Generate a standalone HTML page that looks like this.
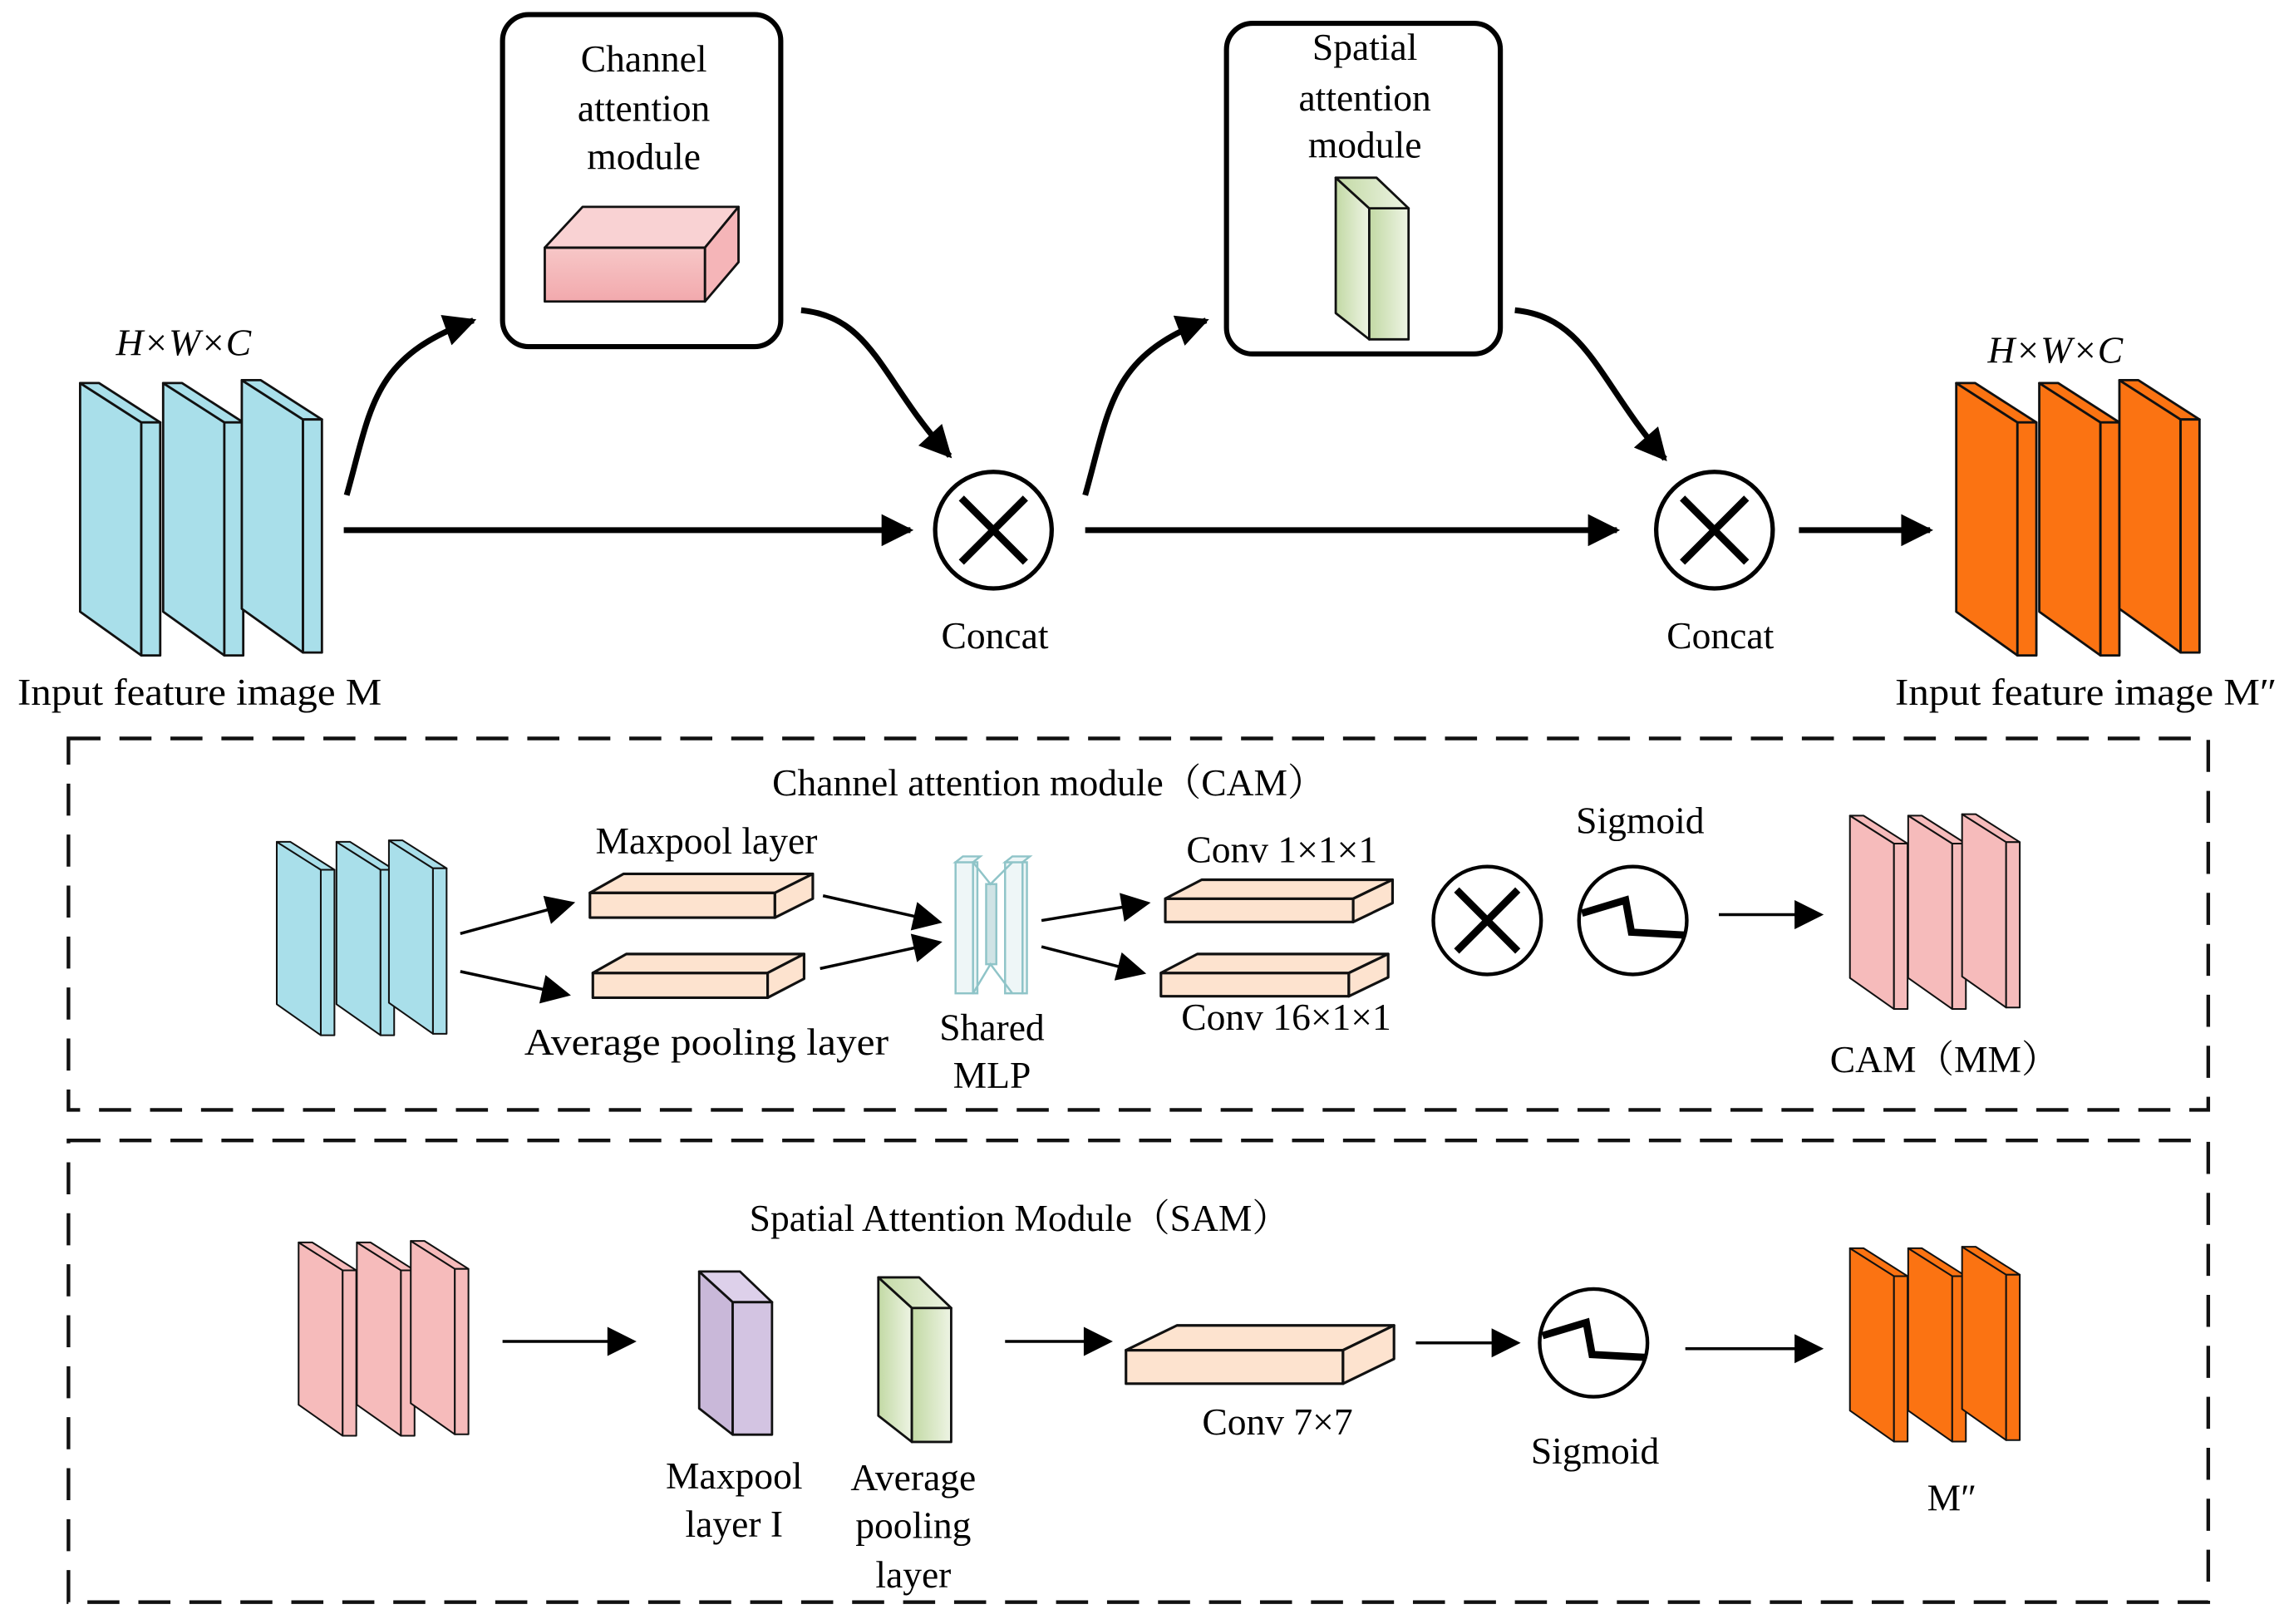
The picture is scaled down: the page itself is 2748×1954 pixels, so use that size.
<!DOCTYPE html>
<html><head><meta charset="utf-8"><style>html,body{margin:0;padding:0;background:#fff}svg{display:block}</style></head>
<body>
<svg width="2748" height="1954" viewBox="0 0 1568 1115" preserveAspectRatio="none" xmlns="http://www.w3.org/2000/svg" font-family="'Liberation Serif','Noto Serif CJK SC',serif">
<defs>
<g id="plate" stroke="#111" stroke-width="1.6" stroke-linejoin="round">
<polygon points="0,0 42,27 42,187 0,157"/>
<polygon points="0,0 13,0 55,27 42,27"/>
<polygon points="42,27 55,27 55,187 42,187"/>
</g>
<marker id="ah" viewBox="0 0 10 10" refX="9" refY="5" markerWidth="6.5" markerHeight="5.5" orient="auto" markerUnits="strokeWidth"><path d="M0,0 L10,5 L0,10 z" fill="#000"/></marker>
<marker id="ah2" viewBox="0 0 10 10" refX="9" refY="5" markerWidth="12" markerHeight="10" orient="auto" markerUnits="strokeWidth"><path d="M0,0 L10,5 L0,10 z" fill="#000"/></marker>
<linearGradient id="gg" x1="0" x2="1"><stop offset="0" stop-color="#c2d9a4"/><stop offset="1" stop-color="#eef4e4"/></linearGradient>
<linearGradient id="pg" x1="0" y1="0" x2="0" y2="1"><stop offset="0" stop-color="#f7c7c7"/><stop offset="1" stop-color="#f2a9ad"/></linearGradient>
</defs>

<g fill="#a9dfea"><use href="#plate" transform="translate(55,263)"/><use href="#plate" transform="translate(112,263)"/><use href="#plate" transform="translate(166,261)"/></g>
<g fill="#fb7312"><use href="#plate" transform="translate(1343,263)"/><use href="#plate" transform="translate(1400,263)"/><use href="#plate" transform="translate(1455,261)"/></g>

<rect x="345" y="10" width="191" height="228" rx="18" fill="#fff" stroke="#000" stroke-width="3.5"/>
<rect x="842" y="16" width="188" height="227" rx="18" fill="#fff" stroke="#000" stroke-width="3.5"/>
<g stroke="#111" stroke-width="1.6" stroke-linejoin="round">
<polygon points="374,170 484,170 484,207 374,207" fill="url(#pg)"/>
<polygon points="374,170 400,142 507,142 484,170" fill="#f9d2d3"/>
<polygon points="484,170 507,142 507,180 484,207" fill="#f5b5b8"/>
<polygon points="917,122 940,143 940,233 917,215" fill="url(#gg)"/>
<polygon points="940,143 967,143 967,233 940,233" fill="url(#gg)"/>
<polygon points="917,122 945,122 967,143 940,143" fill="url(#gg)"/>
</g>
<g font-size="26" text-anchor="middle" fill="#000">
<text x="442" y="49">Channel</text><text x="442" y="83">attention</text><text x="442" y="116">module</text>
<text x="937" y="41">Spatial</text><text x="937" y="76">attention</text><text x="937" y="108">module</text>
<text x="126" y="244" font-style="italic">H×W×C</text>
<text x="1411" y="249" font-style="italic">H×W×C</text>
<text x="683" y="445">Concat</text><text x="1181" y="445">Concat</text>
<text x="137" y="484" textLength="250" lengthAdjust="spacingAndGlyphs">Input feature image M</text>
<text x="1432" y="484" textLength="262" lengthAdjust="spacingAndGlyphs">Input feature image M″</text>
</g>

<g stroke="#000" stroke-width="4" fill="none">
<line x1="236" y1="364" x2="625" y2="364" marker-end="url(#ah)"/>
<line x1="745" y1="364" x2="1110" y2="364" marker-end="url(#ah)"/>
<line x1="1235" y1="364" x2="1325" y2="364" marker-end="url(#ah)"/>
<path d="M238,340 C255,280 255,245 325,220" marker-end="url(#ah)"/>
<path d="M550,213 C600,218 605,262 652,313" marker-end="url(#ah)"/>
<path d="M745,340 C762,280 762,245 828,220" marker-end="url(#ah)"/>
<path d="M1040,213 C1090,218 1097,262 1143,315" marker-end="url(#ah)"/>
</g>
<g stroke="#000" fill="#fff" stroke-width="3"><circle cx="682" cy="364" r="40"/><circle cx="1177" cy="364" r="40"/></g>
<g stroke="#000" stroke-width="5"><path d="M660,342 L704,386 M704,342 L660,386"/><path d="M1155,342 L1199,386 M1199,342 L1155,386"/></g>

<g fill="none" stroke="#111" stroke-width="2.5" stroke-dasharray="22,13">
<rect x="47" y="507" width="1469" height="255"/>
<rect x="47" y="783" width="1469" height="317"/>
</g>

<g fill="#a9dfea"><use href="#plate" transform="translate(190,578) scale(0.72,0.71)"/><use href="#plate" transform="translate(231,578) scale(0.72,0.71)"/><use href="#plate" transform="translate(267,577) scale(0.72,0.71)"/></g>
<g fill="#f6bbbb"><use href="#plate" transform="translate(1270,560) scale(0.72,0.71)"/><use href="#plate" transform="translate(1310,560) scale(0.72,0.71)"/><use href="#plate" transform="translate(1347,559) scale(0.72,0.71)"/></g>
<g stroke="#111" stroke-width="1.8" stroke-linejoin="round" fill="#fde3cf">
<polygon points="405,613 532,613 532,630 405,630"/><polygon points="405,613 428,600 558,600 532,613"/><polygon points="532,613 558,600 558,617 532,630"/>
<polygon points="407,668 527,668 527,685 407,685"/><polygon points="407,668 430,655 552,655 527,668"/><polygon points="527,668 552,655 552,672 527,685"/>
<polygon points="800,617 929,617 929,633 800,633"/><polygon points="800,617 825,604 956,604 929,617"/><polygon points="929,617 956,604 956,620 929,633"/>
<polygon points="797,668 926,668 926,684 797,684"/><polygon points="797,668 822,655 953,655 926,668"/><polygon points="926,668 953,655 953,671 926,684"/>
<polygon points="773,927 922,927 922,950 773,950"/><polygon points="773,927 808,910 957,910 922,927"/><polygon points="922,927 957,910 957,933 922,950"/>
</g>
<g fill="#eef6f7" stroke="#8fc4c8" stroke-width="1.4">
<rect x="656" y="592" width="12" height="90"/><polygon points="656,592 661,588 673,588 668,592"/><rect x="668" y="592" width="3" height="90"/>
<rect x="690" y="592" width="12" height="90"/><polygon points="690,592 695,588 707,588 702,592"/><rect x="702" y="592" width="3" height="90"/>
<rect x="677" y="607" width="7" height="55" fill="#cfe3e5"/>
<path d="M668,592 L680,607 L695,592 M668,682 L680,662 L695,682" fill="none"/>
</g>
<g stroke="#000" stroke-width="2" fill="none">
<line x1="316" y1="641" x2="393" y2="620" marker-end="url(#ah2)"/>
<line x1="316" y1="667" x2="390" y2="683" marker-end="url(#ah2)"/>
<line x1="565" y1="615" x2="645" y2="633" marker-end="url(#ah2)"/>
<line x1="563" y1="665" x2="645" y2="647" marker-end="url(#ah2)"/>
<line x1="715" y1="632" x2="788" y2="620" marker-end="url(#ah2)"/>
<line x1="715" y1="650" x2="785" y2="668" marker-end="url(#ah2)"/>
<line x1="1180" y1="628" x2="1250" y2="628" marker-end="url(#ah2)"/>
<line x1="345" y1="921" x2="435" y2="921" marker-end="url(#ah2)"/>
<line x1="690" y1="921" x2="762" y2="921" marker-end="url(#ah2)"/>
<line x1="972" y1="922" x2="1042" y2="922" marker-end="url(#ah2)"/>
<line x1="1157" y1="926" x2="1250" y2="926" marker-end="url(#ah2)"/>
</g>
<g stroke="#000" fill="#fff" stroke-width="2.5"><circle cx="1021" cy="632" r="37"/><circle cx="1121" cy="632" r="37"/><circle cx="1094" cy="922" r="37"/></g>
<g stroke="#000" stroke-width="5" fill="none">
<path d="M1000,611 L1042,653 M1042,611 L1000,653"/>
<path d="M1086,627 L1116,618 L1120,640 L1157,642"/>
<path d="M1059,917 L1089,908 L1093,930 L1130,932"/>
</g>
<g font-size="26" text-anchor="middle" fill="#000">
<text x="720" y="546">Channel attention module（CAM）</text>
<text x="485" y="586">Maxpool layer</text>
<text x="485" y="724" textLength="250" lengthAdjust="spacingAndGlyphs">Average pooling layer</text>
<text x="681" y="714">Shared</text><text x="681" y="747">MLP</text>
<text x="880" y="592">Conv 1×1×1</text>
<text x="883" y="707">Conv 16×1×1</text>
<text x="1126" y="572">Sigmoid</text>
<text x="1335" y="736">CAM（MM）</text>
<text x="700" y="845">Spatial Attention Module（SAM）</text>
<text x="504" y="1022">Maxpool</text><text x="504" y="1055">layer I</text>
<text x="627" y="1023">Average</text><text x="627" y="1056">pooling</text><text x="627" y="1090">layer</text>
<text x="877" y="985">Conv 7×7</text>
<text x="1095" y="1005">Sigmoid</text>
<text x="1340" y="1037">M″</text>
</g>

<g fill="#f6bbbb"><use href="#plate" transform="translate(205,853) scale(0.72,0.71)"/><use href="#plate" transform="translate(245,853) scale(0.72,0.71)"/><use href="#plate" transform="translate(282,852) scale(0.72,0.71)"/></g>
<g fill="#fb7312"><use href="#plate" transform="translate(1270,857) scale(0.72,0.71)"/><use href="#plate" transform="translate(1310,857) scale(0.72,0.71)"/><use href="#plate" transform="translate(1347,856) scale(0.72,0.71)"/></g>
<g stroke="#111" stroke-width="1.6" stroke-linejoin="round">
<polygon points="480,873 503,894 503,985 480,967" fill="#c9b8d9"/>
<polygon points="503,894 530,894 530,985 503,985" fill="#d3c4e2"/>
<polygon points="480,873 508,873 530,894 503,894" fill="#ddd0ea"/>
<polygon points="603,877 626,898 626,990 603,972" fill="url(#gg)"/>
<polygon points="626,898 653,898 653,990 626,990" fill="url(#gg)"/>
<polygon points="603,877 631,877 653,898 626,898" fill="url(#gg)"/>
</g>
</svg>
</body></html>
